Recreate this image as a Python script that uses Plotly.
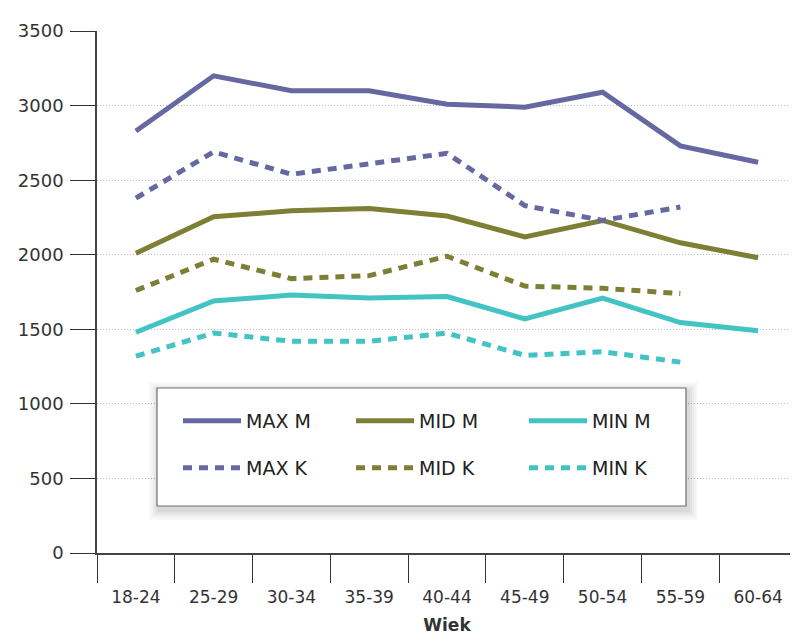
import plotly.graph_objects as go

# page body has an 8px margin, so the figure is drawn 8px in from the top-left
OFF = 8
W, H = 798 - OFF, 635 - OFF

categories = ["18-24", "25-29", "30-34", "35-39", "40-44", "45-49", "50-54", "55-59", "60-64"]
max_m = [2830, 3200, 3100, 3100, 3010, 2990, 3090, 2730, 2620]
mid_m = [2010, 2255, 2295, 2310, 2260, 2120, 2230, 2080, 1980]
min_m = [1480, 1690, 1730, 1710, 1720, 1570, 1710, 1545, 1490]
max_k = [2380, 2690, 2540, 2610, 2680, 2330, 2230, 2320]
mid_k = [1760, 1970, 1840, 1860, 1990, 1790, 1775, 1740]
min_k = [1320, 1475, 1420, 1420, 1475, 1325, 1350, 1280]
y_ticks = [0, 500, 1000, 1500, 2000, 2500, 3000, 3500]

C_MAX = "#6668a1"
C_MID = "#7d8034"
C_MIN = "#43c3c4"
FONT = "DejaVu Sans"

series = [
    ("MAX M", max_m, C_MAX, "solid", "legend"),
    ("MID M", mid_m, C_MID, "solid", "legend"),
    ("MIN M", min_m, C_MIN, "solid", "legend"),
    ("MAX K", max_k, C_MAX, "9px,7px", "legend2"),
    ("MID K", mid_k, C_MID, "9px,7px", "legend2"),
    ("MIN K", min_k, C_MIN, "9px,7px", "legend2"),
]

fig = go.Figure()
for name, vals, col, dash, lg in series:
    fig.add_trace(go.Scatter(
        x=categories[:len(vals)], y=vals, name=name, mode="lines",
        line=dict(color=col, width=5, dash=dash),
        legend=lg,
    ))

# plot area geometry (absolute page px)
L, R, T, B = 97, 797, 31, 553
pw, ph = R - L, B - T

def px2paper_x(px):
    return (px - L) / pw

def px2paper_y(py):
    return (B - py) / ph

shapes = []
# legend box with soft shadow
bx0, bx1, by0, by1 = 157, 686, 388, 506
for i, a in enumerate([0.025, 0.025, 0.03, 0.035, 0.04]):
    e = 10 - 2 * i
    shapes.append(dict(type="rect", xref="paper", yref="paper",
                       x0=px2paper_x(bx0 - e + 2), x1=px2paper_x(bx1 + e + 2),
                       y0=px2paper_y(by1 + e + 4), y1=px2paper_y(by0 - e + 4),
                       fillcolor=f"rgba(0,0,0,{a})", line=dict(width=0), layer="above"))
shapes.append(dict(type="rect", xref="paper", yref="paper",
                   x0=px2paper_x(bx0), x1=px2paper_x(bx1),
                   y0=px2paper_y(by1), y1=px2paper_y(by0),
                   fillcolor="white", line=dict(color="#6e6e6e", width=1.2), layer="above"))

legend_common = dict(
    orientation="h", entrywidth=100, entrywidthmode="pixels", itemwidth=58,
    font=dict(family=FONT, size=19, color="#222"),
    bgcolor="rgba(0,0,0,0)", borderwidth=0,
    xref="paper", yref="paper", xanchor="left", yanchor="middle",
    tracegroupgap=0,
)

fig.update_layout(
    width=W, height=H,
    margin=dict(l=L - OFF, r=W - (R - OFF), t=T - OFF, b=H - (B - OFF), autoexpand=False),
    paper_bgcolor="white", plot_bgcolor="white",
    showlegend=True,
    legend=dict(**legend_common, x=px2paper_x(178), y=px2paper_y(421)),
    legend2=dict(**legend_common, x=px2paper_x(178), y=px2paper_y(468)),
    shapes=shapes,
    xaxis=dict(
        type="category", categoryorder="array", categoryarray=categories,
        range=[-0.5, 8.5], tickson="boundaries",
        ticks="outside", ticklen=28, tickwidth=1.2, tickcolor="#333",
        ticklabelstandoff=28,
        showline=True, linecolor="#444", linewidth=1.5,
        showgrid=False, zeroline=False,
        tickfont=dict(family=FONT, size=17, color="#333"),
        title=dict(text="<b>Wiek</b>", font=dict(family=FONT, size=17, color="#333"), standoff=17),
    ),
    yaxis=dict(
        range=[0, 3500.5], tickvals=y_ticks,
        ticks="outside", ticklen=25, tickwidth=1.2, tickcolor="#333",
        ticklabelstandoff=3,
        showline=True, linecolor="#444", linewidth=1.5,
        showgrid=True, gridcolor="#bdbdbd", griddash="1px,2px", gridwidth=1,
        zeroline=False,
        tickfont=dict(family=FONT, size=18, color="#333"),
    ),
)

fig.write_html("out.html")
